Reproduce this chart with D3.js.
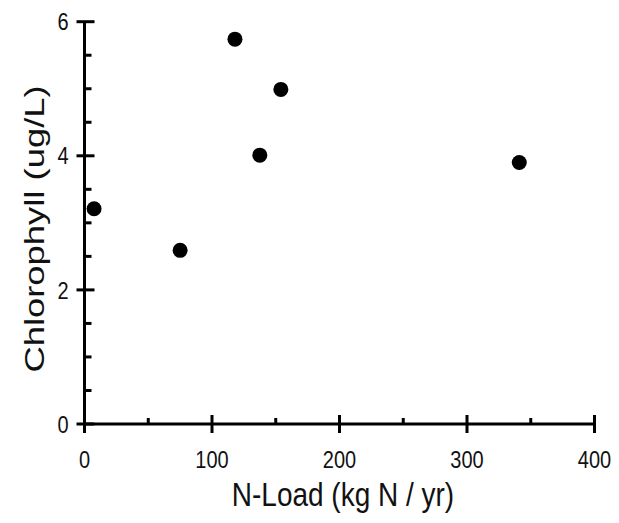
<!DOCTYPE html>
<html>
<head>
<meta charset="utf-8">
<script src="https://cdn.jsdelivr.net/npm/d3@7"></script>
<style>
  html, body { margin: 0; padding: 0; background: #fff; }
  svg { display: block; }
  text { font-family: "Liberation Sans", Arial, sans-serif; fill: #111; }
</style>
</head>
<body>
<svg id="chart" width="619" height="523"></svg>
<script>
// N-load vs. chlorophyll observations
const nLoad = [7.5, 75, 118, 137.5, 154, 341];
const chlorophyll = [3.21, 2.59, 5.74, 4.01, 4.99, 3.90];

const xMajorTicks = [0, 100, 200, 300, 400];
const xMinorTicks = [50, 150, 250, 350];
const yMajorTicks = [0, 2, 4, 6];
const yMinorTicks = [0.5, 1, 1.5, 2.5, 3, 3.5, 4.5, 5, 5.5];

const xTitle = "N-Load (kg N / yr)";
const yTitle = "Chlorophyll (ug/L)";

const svg = d3.select("#chart");
const x = d3.scaleLinear().domain([0, 400]).range([84.5, 594.5]);
const y = d3.scaleLinear().domain([0, 6]).range([424, 21.7]);

const axisStroke = 3;
const tall = 1.2; // lettering is drawn slightly taller than wide

// X axis: major ticks cross the line, minor ticks point up
const gx = svg.append("g").attr("transform", `translate(0,${y(0)})`);
gx.append("line").attr("x1", x(0)).attr("x2", x(400))
  .attr("stroke", "#000").attr("stroke-width", axisStroke);
gx.selectAll(".maj").data(xMajorTicks).join("line")
  .attr("x1", d => x(d)).attr("x2", d => x(d))
  .attr("y1", -9).attr("y2", 9)
  .attr("stroke", "#000").attr("stroke-width", 3);
gx.selectAll(".min").data(xMinorTicks).join("line")
  .attr("x1", d => x(d)).attr("x2", d => x(d))
  .attr("y1", -6).attr("y2", 0)
  .attr("stroke", "#000").attr("stroke-width", 3);
gx.selectAll(".lab").data(xMajorTicks).join("text")
  .attr("transform", d => `translate(${x(d)},44) scale(1,${tall})`)
  .attr("text-anchor", "middle")
  .attr("font-size", 20)
  .text(d => d);

// Y axis: major ticks cross the line, minor ticks point right
const gy = svg.append("g").attr("transform", `translate(${x(0)},0)`);
gy.append("line").attr("y1", y(0)).attr("y2", y(6))
  .attr("stroke", "#000").attr("stroke-width", axisStroke);
gy.selectAll(".maj").data(yMajorTicks).join("line")
  .attr("y1", d => y(d)).attr("y2", d => y(d))
  .attr("x1", -8).attr("x2", 10)
  .attr("stroke", "#000").attr("stroke-width", 3);
gy.selectAll(".min").data(yMinorTicks).join("line")
  .attr("y1", d => y(d)).attr("y2", d => y(d))
  .attr("x1", 0).attr("x2", 7)
  .attr("stroke", "#000").attr("stroke-width", 3);
gy.selectAll(".lab").data(yMajorTicks).join("text")
  .attr("transform", d => `translate(-16,${y(d)}) scale(1,${tall})`)
  .attr("dy", "0.36em")
  .attr("text-anchor", "end")
  .attr("font-size", 20)
  .text(d => d);

// Axis titles
svg.append("text")
  .attr("transform", `translate(343,506) scale(1,${tall})`)
  .attr("text-anchor", "middle")
  .attr("font-size", 28)
  .text(xTitle);
svg.append("text")
  .attr("transform", `translate(44,229) rotate(-90) scale(1.3,1)`)
  .attr("text-anchor", "middle")
  .attr("font-size", 28)
  .text(yTitle);

// Observations
svg.append("g").selectAll("circle")
  .data(nLoad.map((d, i) => [d, chlorophyll[i]]))
  .join("circle")
  .attr("cx", d => x(d[0]))
  .attr("cy", d => y(d[1]))
  .attr("r", 7.5)
  .attr("fill", "#000");
</script>
</body>
</html>
